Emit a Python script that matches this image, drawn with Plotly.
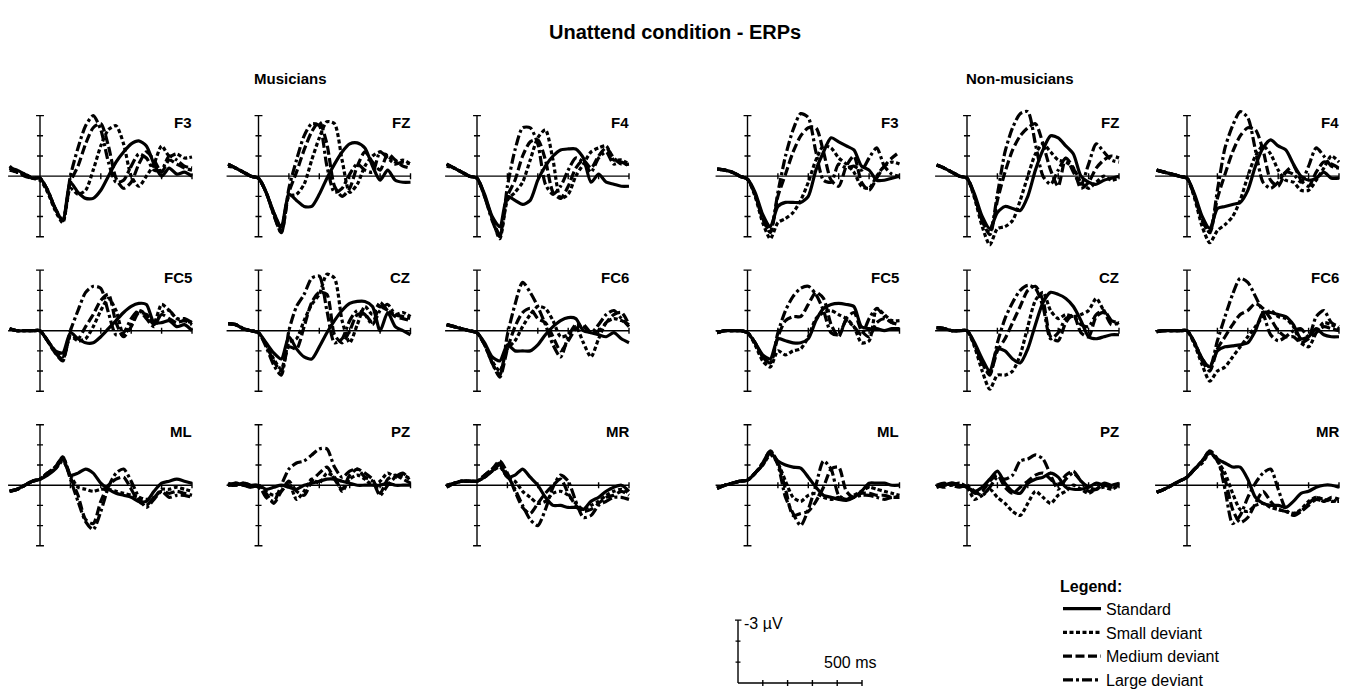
import plotly.graph_objects as go

# ---------------- data ----------------
TIME_MS = [-100, -75, -50, -25, 0, 25, 50, 75, 100, 125, 150, 175, 200,
           225, 250, 275, 300, 325, 350, 375, 400, 425, 450, 475, 500]
CONDITIONS = ["Standard", "Small deviant", "Medium deviant", "Large deviant"]
GROUPS = ["Musicians", "Non-musicians"]
ELECTRODES = [["F3", "FZ", "F4"], ["FC5", "CZ", "FC6"], ["ML", "PZ", "MR"]]

# Musicians (µV, negative plotted upward)
mus_F3_std = [-0.4,-0.3,-0.1,0.1,0.1, 0.7,1.6,2.2,0.3, 0.8,1.1,1.1,0.7, 0.0,-0.7,-1.2,-1.6,-1.75,-1.5,-0.6,0.0,-0.4,-0.1,-0.2,0.0]
mus_F3_sml = [-0.5,-0.2,-0.1,0.1,0.2, 0.8,1.7,2.3,0.6, 0.9,0.7,-0.3,-1.5, -2.3,-2.5,-1.6,0.0,0.5,0.0,-0.6,-1.5,-1.0,-1.1,-0.9,-0.95]
mus_F3_med = [-0.3,-0.2,0.0,0.1,0.1, 0.7,1.6,2.2,0.3, -0.5,-1.6,-2.4,-2.6, -1.5,0.1,0.6,0.3,-0.6,-1.2,-0.8,-0.2,-0.8,-0.6,-0.4,-0.3]
mus_F3_lrg = [-0.4,-0.2,-0.1,0.1,0.1, 0.7,1.6,2.2,0.0, -1.4,-2.5,-3.0,-2.3, -0.7,0.3,0.2,-0.5,-1.1,-0.9,-0.3,-0.3,-1.0,-0.8,-0.5,-0.4]

mus_FZ_std = [-0.6,-0.4,-0.2,0.0,0.1, 0.8,1.8,2.5,0.9, 1.2,1.5,1.5,0.9, 0.1,-0.6,-1.2,-1.6,-1.65,-1.4,-0.5,0.2,-0.3,0.2,0.3,0.3]
mus_FZ_sml = [-0.5,-0.4,-0.2,0.0,0.1, 0.8,1.8,2.6,1.0, 0.9,0.4,-0.8,-1.9, -2.7,-2.6,-0.8,0.8,0.4,-0.5,-1.0,-1.2,-1.0,-0.7,-0.8,-0.6]
mus_FZ_med = [-0.6,-0.4,-0.2,0.0,0.1, 0.8,1.9,2.8,0.8, -0.2,-1.3,-2.2,-2.7, -1.6,0.5,1.0,0.6,-0.5,-1.2,-0.7,-0.3,-1.1,-0.8,-0.5,-0.4]
mus_FZ_lrg = [-0.6,-0.4,-0.2,0.0,0.1, 0.8,1.9,2.8,0.6, -0.8,-2.0,-2.6,-2.5, -0.5,0.8,0.6,-0.1,-0.6,-0.3,-0.2,-1.2,-0.9,-0.6,-0.7,-0.6]

mus_F4_std = [-0.6,-0.4,-0.2,0.0,0.1, 0.9,2.0,2.5,1.0, 1.2,1.4,1.2,0.2, -0.5,-1.0,-1.3,-1.35,-1.35,-0.9,0.3,-0.1,0.3,0.4,0.5,0.5]
mus_F4_sml = [-0.5,-0.4,-0.2,0.0,0.1, 1.0,2.1,3.1,1.2, 0.8,0.3,-0.8,-1.9, -2.3,-0.8,1.1,0.9,0.0,-0.6,-1.2,-1.4,-1.5,-0.8,-0.8,-0.6]
mus_F4_med = [-0.6,-0.4,-0.2,0.0,0.1, 1.0,2.1,2.9,1.0, 0.2,-1.0,-1.7,-1.8, -0.8,0.8,1.1,0.5,-0.4,-0.8,-0.4,-1.0,-1.4,-0.9,-0.6,-0.6]
mus_F4_lrg = [-0.6,-0.4,-0.2,0.0,0.1, 1.0,2.2,3.0,0.5, -1.3,-2.4,-2.4,-1.6, 0.4,0.9,0.5,-0.3,-0.9,-0.7,-0.2,-0.9,-1.2,-0.6,-0.7,-0.5]

mus_FC5_std = [-0.1,0.0,0.0,0.0,0.0, 0.5,1.0,1.1,0.1, 0.4,0.6,0.6,0.3, -0.1,-0.5,-0.9,-1.2,-1.35,-1.3,-0.4,-0.4,-0.5,-0.2,-0.3,0.0]
mus_FC5_sml = [-0.1,0.0,0.0,0.0,0.0, 0.5,1.0,1.3,0.3, 0.5,0.4,-0.2,-1.0, -1.6,-1.0,0.2,-0.3,-1.0,-0.8,-0.4,-1.3,-1.0,-0.6,-0.5,-0.4]
mus_FC5_med = [-0.1,0.0,0.0,0.0,0.0, 0.5,1.1,1.5,0.2, 0.4,-0.2,-0.8,-1.5, -1.8,-0.4,0.3,-0.2,-0.9,-0.8,-0.3,-0.8,-0.6,-0.4,-0.5,-0.3]
mus_FC5_lrg = [-0.1,0.0,0.0,0.0,0.0, 0.5,1.1,1.4,0.0, -1.0,-1.9,-2.2,-2.1, -0.9,0.2,0.1,-0.6,-1.0,-0.6,-0.2,-0.9,-1.0,-0.6,-0.6,-0.4]

mus_CZ_std = [-0.35,-0.3,-0.1,0.0,0.1, 0.6,1.1,1.4,0.3, 0.9,1.3,1.4,0.8, 0.1,-0.5,-1.0,-1.35,-1.45,-1.45,-1.2,0.0,-0.9,-0.2,0.0,0.2]
mus_CZ_sml = [-0.35,-0.3,-0.1,0.0,0.1, 0.7,1.4,1.9,0.6, 0.4,-0.5,-1.3,-1.8, -2.8,-2.6,-0.5,0.6,-0.3,-1.2,-0.8,-1.4,-1.0,-0.8,-0.9,-0.7]
mus_CZ_med = [-0.35,-0.3,-0.1,0.0,0.1, 0.7,1.5,2.0,0.8, 0.9,-0.2,-1.4,-1.9, -1.8,0.2,0.6,0.0,-0.8,-0.8,-0.4,-1.2,-1.0,-0.7,-0.6,-0.5]
mus_CZ_lrg = [-0.35,-0.3,-0.1,0.0,0.1, 0.8,1.7,2.2,0.0, -1.2,-1.8,-2.6,-2.7, -1.0,0.6,0.4,-0.5,-1.0,-0.8,-0.3,-1.0,-1.3,-0.8,-0.7,-0.6]

mus_FC6_std = [-0.3,-0.2,-0.1,0.0,0.1, 0.6,1.3,1.5,0.7, 1.0,1.0,1.0,0.7, 0.2,-0.2,-0.5,-0.65,-0.6,0.0,0.1,0.2,0.3,0.1,0.4,0.6]
mus_FC6_sml = [-0.3,-0.2,-0.1,0.0,0.1, 0.7,1.5,2.0,0.9, 0.5,-0.2,-0.8,-1.2, -1.1,-0.5,0.3,0.2,-0.2,0.6,1.3,0.4,-0.4,-0.6,-0.5,-0.3]
mus_FC6_med = [-0.3,-0.2,-0.1,0.0,0.1, 0.7,1.6,2.3,0.9, -0.2,-0.9,-1.1,-0.6, -0.4,0.3,1.0,0.5,-0.1,-0.3,0.1,0.0,-0.4,-0.8,-0.9,-0.3]
mus_FC6_lrg = [-0.3,-0.2,-0.1,0.0,0.1, 0.7,1.6,2.2,0.2, -1.3,-2.4,-1.9,-1.2, -0.3,0.7,1.3,0.3,-0.3,-0.2,0.1,-0.3,-0.8,-1.0,-0.6,-0.2]

mus_ML_std = [0.3,0.2,0.0,-0.2,-0.3, -0.5,-0.8,-1.3,-0.5, -0.6,-0.8,-0.6,-0.1, 0.2,0.4,0.5,0.6,0.8,0.8,0.3,-0.1,-0.2,-0.3,-0.2,-0.1]
mus_ML_sml = [0.3,0.2,0.0,-0.2,-0.3, -0.6,-0.8,-1.2,-0.5, 0.1,0.2,0.3,0.2, 0.2,0.3,0.4,0.5,0.6,0.7,0.6,0.2,0.2,0.1,0.2,0.3]
mus_ML_med = [0.3,0.2,0.0,-0.2,-0.3, -0.6,-0.9,-1.4,-0.4, 0.5,1.7,1.9,0.8, 0.0,-0.3,-0.4,0.2,0.8,1.0,0.6,0.3,0.4,0.3,0.4,0.5]
mus_ML_lrg = [0.3,0.2,0.0,-0.2,-0.3, -0.6,-0.9,-1.4,-0.3, 0.8,1.8,2.2,1.3, 0.1,-0.6,-0.8,-0.2,0.6,1.1,0.7,0.3,0.6,0.5,0.5,0.6]

mus_PZ_std = [0.0,-0.1,0.0,0.1,0.0, 0.2,0.1,0.0,0.1, 0.2,0.0,-0.1,-0.2, -0.3,-0.3,-0.2,-0.1,0.0,0.0,0.0,0.0,-0.1,0.0,0.0,0.0]
mus_PZ_sml = [0.0,-0.1,0.0,0.1,0.0, 0.3,0.5,0.3,-0.1, 0.7,0.3,-0.3,-0.1, -0.6,-0.4,0.3,-0.3,-0.5,-0.3,0.0,-0.2,-0.6,-0.4,-0.5,-0.3]
mus_PZ_med = [0.0,0.0,-0.1,0.0,0.1, 0.4,0.9,0.3,-0.2, 0.3,0.5,-0.2,-0.6, -0.9,-0.3,0.2,-0.5,-0.8,-0.6,-0.3,0.4,-0.3,-0.5,-0.3,-0.1]
mus_PZ_lrg = [-0.1,0.0,-0.1,0.0,0.0, 0.6,0.8,0.0,-0.8, -1.1,-1.2,-1.5,-1.8, -1.8,-0.9,-0.4,-0.7,-0.8,-0.4,-0.2,0.5,0.0,-0.4,-0.6,-0.2]

mus_MR_std = [0.0,-0.1,-0.2,-0.2,-0.2, -0.4,-0.7,-1.0,-0.4, -0.5,-0.8,-0.4,0.0, 0.6,1.0,1.0,1.1,1.1,1.2,0.8,0.6,0.3,0.1,0.0,0.3]
mus_MR_sml = [0.0,-0.1,-0.2,-0.2,-0.2, -0.4,-0.7,-0.9,-0.4, -0.2,0.3,0.6,0.9, 0.8,0.4,0.3,0.5,0.9,1.2,1.0,0.8,0.5,0.3,0.2,0.4]
mus_MR_med = [0.1,-0.1,-0.2,-0.2,-0.2, -0.5,-0.8,-1.2,-0.6, 0.3,1.1,1.4,0.9, 0.4,0.0,-0.3,0.4,1.0,1.3,1.2,0.9,0.6,0.5,0.3,0.5]
mus_MR_lrg = [0.1,-0.1,-0.2,-0.2,-0.2, -0.5,-0.8,-1.1,-0.5, 0.2,1.0,1.7,2.0, 1.2,0.1,-0.5,-0.2,0.8,1.6,1.5,1.0,0.8,0.6,0.6,0.7]

# Non-musicians
non_F3_std = [-0.35,-0.3,-0.2,0.0,0.15, 0.8,1.9,2.5,1.5, 1.3,1.3,1.3,1.0, -0.3,-1.2,-1.9,-1.7,-1.5,-1.3,-0.5,-0.3,0.2,0.2,0.1,0.0]
non_F3_sml = [-0.35,-0.3,-0.2,0.0,0.15, 1.0,2.3,3.1,2.3, 2.1,1.8,1.2,0.3, -0.8,-1.5,-1.4,-0.9,-0.6,-0.2,0.5,0.6,0.0,-0.5,-0.7,-0.6]
non_F3_med = [-0.35,-0.3,-0.2,0.0,0.15, 0.9,2.1,2.8,1.0, -0.1,-1.2,-2.0,-2.4, -2.4,-1.2,0.2,0.5,-0.5,-1.0,0.3,0.7,0.1,-0.5,-0.9,-1.2]
non_F3_lrg = [-0.35,-0.3,-0.2,0.0,0.15, 0.9,2.1,2.7,0.8, -1.0,-2.3,-3.1,-2.9, -1.2,0.2,0.3,-0.6,-0.4,-0.5,-0.3,-0.9,-1.4,-0.5,-0.1,0.0]

non_FZ_std = [-0.55,-0.4,-0.2,0.0,0.1, 0.9,2.0,2.6,1.8, 1.5,1.6,1.7,1.0, -0.3,-1.3,-2.0,-1.9,-1.5,-1.1,0.0,0.3,0.4,0.2,0.1,0.0]
non_FZ_sml = [-0.55,-0.4,-0.2,0.0,0.1, 1.1,2.5,3.4,2.6, 2.5,2.2,1.2,0.0, -1.1,-1.6,-1.2,-0.8,-0.7,-0.4,0.3,0.6,0.3,0.0,0.2,0.1]
non_FZ_med = [-0.55,-0.4,-0.2,0.0,0.1, 1.0,2.2,2.9,1.2, -0.2,-1.3,-2.0,-2.4, -2.6,-1.6,-0.3,0.5,-0.9,-0.4,0.6,0.3,-0.4,-0.8,-1.0,-0.9]
non_FZ_lrg = [-0.55,-0.4,-0.2,0.0,0.1, 1.0,2.2,2.8,0.9, -1.2,-2.4,-3.1,-3.2, -1.6,0.0,0.4,-0.3,-0.9,-0.2,0.4,-0.6,-1.6,-1.2,-0.8,-0.7]

non_F4_std = [-0.3,-0.2,-0.1,0.0,0.1, 0.9,2.0,2.6,1.6, 1.5,1.4,1.3,0.7, -0.5,-1.4,-1.8,-1.5,-1.3,-0.6,0.0,0.2,0.1,-0.2,0.1,0.1]
non_F4_sml = [-0.3,-0.2,-0.1,0.0,0.1, 1.1,2.5,3.3,2.7, 2.4,2.0,1.2,0.0, -1.0,-1.5,-1.1,-0.3,0.2,0.3,0.7,0.7,0.2,-0.4,-1.0,-0.7]
non_F4_med = [-0.3,-0.2,-0.1,0.0,0.1, 1.0,2.1,2.8,1.1, -0.1,-1.2,-2.0,-2.4, -2.3,-1.3,0.2,0.5,-0.2,-0.5,0.2,0.5,-0.2,-0.7,-0.6,-0.4]
non_F4_lrg = [-0.3,-0.2,-0.1,0.0,0.1, 1.0,2.2,2.8,0.7, -1.4,-2.5,-3.2,-2.9, -1.3,0.3,0.6,0.3,-0.2,-0.1,0.3,-0.5,-1.4,-1.0,-0.5,-0.4]

non_FC5_std = [0.1,0.0,0.0,0.0,0.1, 0.6,1.2,1.4,0.4, 0.5,0.6,0.6,0.4, -0.5,-1.1,-1.3,-1.35,-1.3,-1.2,-0.2,-0.1,-0.1,0.0,-0.1,-0.1]
non_FC5_sml = [0.1,0.0,0.0,0.0,0.1, 0.7,1.5,1.8,1.0, 1.2,1.0,0.9,0.3, -0.6,-0.9,-1.0,-0.8,-0.6,-0.2,0.6,0.5,-1.1,-0.8,-0.5,-0.5]
non_FC5_med = [0.1,0.0,0.0,0.0,0.1, 0.6,1.3,1.6,0.3, -0.5,-0.7,-0.7,-1.3, -1.9,-1.6,-0.3,0.3,-0.6,-0.9,0.0,0.3,-0.4,-0.6,-0.4,-0.3]
non_FC5_lrg = [0.1,0.0,0.0,0.0,0.1, 0.6,1.3,1.6,0.1, -1.0,-1.7,-2.1,-2.2, -1.8,-1.0,0.1,0.2,-0.5,-0.2,0.2,-0.6,-1.1,-0.7,-0.4,-0.3]

non_CZ_std = [-0.15,-0.1,0.0,0.0,0.0, 0.6,1.4,2.0,0.9, 1.0,1.4,1.6,0.9, -0.3,-1.4,-1.9,-1.8,-1.6,-1.2,-0.5,0.3,0.4,0.3,0.2,0.2]
non_CZ_sml = [-0.15,-0.1,0.0,0.0,0.0, 0.8,2.0,2.9,2.2, 2.2,2.0,1.2,-0.2, -1.5,-1.9,-1.0,-0.6,-0.8,-0.7,-0.8,-1.0,-1.6,-1.0,-0.5,-0.4]
non_CZ_med = [-0.15,-0.1,0.0,0.0,0.0, 0.7,1.6,2.1,1.0, 0.4,-0.4,-1.2,-2.0, -2.2,-1.5,0.3,0.5,-0.4,-0.8,0.1,0.3,-0.7,-0.9,-0.3,-0.4]
non_CZ_lrg = [-0.15,-0.1,0.0,0.0,0.0, 0.7,1.6,2.2,0.6, -0.6,-1.4,-2.0,-2.25, -2.1,-1.2,0.4,0.1,-0.6,-0.7,-0.3,-0.2,-0.8,-1.0,-0.5,-0.3]

non_FC6_std = [0.05,0.0,0.0,0.0,0.0, 0.6,1.4,1.8,1.0, 0.8,0.75,0.7,0.6, 0.0,-0.9,-0.9,-0.8,-0.7,-0.3,0.4,0.3,-0.1,0.2,0.3,0.3]
non_FC6_sml = [0.05,0.0,0.0,0.0,0.0, 0.7,1.7,2.5,2.0, 1.8,1.3,0.8,0.3, -0.2,-0.7,-1.0,-0.7,-0.6,-0.2,0.6,0.8,0.1,-0.4,-0.3,-0.1]
non_FC6_med = [0.05,0.0,0.0,0.0,0.0, 0.6,1.5,2.0,0.9, 0.3,-0.3,-0.8,-1.0, -1.35,-1.1,-0.6,0.0,0.3,0.3,0.6,0.4,0.1,-0.2,-0.1,0.0]
non_FC6_lrg = [0.05,0.0,0.0,0.0,0.0, 0.6,1.4,1.8,0.5, -0.7,-1.8,-2.6,-2.4, -1.7,-0.9,0.2,0.5,0.3,0.0,-0.1,0.3,-0.7,-1.0,-0.4,-0.2]

non_ML_std = [0.15,0.0,-0.1,-0.2,-0.25, -0.6,-1.0,-1.6,-1.2, -1.0,-0.9,-0.85,-0.4, 0.1,0.5,0.6,0.7,0.75,0.6,0.3,-0.1,-0.1,-0.1,0.0,0.0]
non_ML_sml = [0.15,0.0,-0.1,-0.2,-0.25, -0.6,-1.0,-1.5,-1.1, -0.2,0.6,0.8,0.5, 0.4,0.6,0.7,0.6,0.7,0.5,0.3,0.1,0.2,0.3,0.4,0.5]
non_ML_med = [0.15,0.0,-0.1,-0.2,-0.25, -0.6,-1.1,-1.7,-1.1, 0.2,1.5,1.4,1.3, 0.8,0.1,-0.8,-0.9,0.3,0.6,0.4,0.4,0.5,0.5,0.6,0.6]
non_ML_lrg = [0.15,0.0,-0.1,-0.2,-0.25, -0.6,-1.1,-1.7,-1.0, 0.6,1.4,2.0,1.2, 0.0,-1.2,-0.8,0.5,0.7,0.6,0.5,0.5,0.6,0.7,0.6,0.6]

non_PZ_std = [0.1,0.0,-0.1,0.0,0.1, 0.3,0.1,-0.3,-0.7, -0.1,0.3,0.4,-0.1, -0.3,-0.4,-0.6,-0.4,0.1,0.2,0.2,0.1,-0.1,0.0,0.0,-0.1]
non_PZ_sml = [0.1,0.0,0.0,-0.1,0.1, 0.7,0.5,0.2,0.6, 0.9,1.3,1.5,0.9, 0.3,0.6,0.9,0.5,0.3,0.0,0.2,0.4,0.2,0.1,0.2,0.0]
non_PZ_med = [0.0,0.1,-0.1,0.0,0.1, 0.4,0.3,-0.2,-0.5, 0.1,0.4,0.1,-0.2, -0.5,-0.6,-0.3,0.0,-0.5,-0.7,-0.2,0.1,0.2,-0.1,0.0,0.0]
non_PZ_lrg = [0.0,-0.1,0.0,0.1,0.0, 0.3,0.5,0.1,-0.4, -0.3,-0.5,-1.2,-1.3, -1.5,-1.3,-0.5,0.2,-0.3,-0.6,-0.2,0.3,0.2,0.0,0.1,0.0]

non_MR_std = [0.35,0.2,0.0,-0.2,-0.4, -0.8,-1.2,-1.6,-1.3, -1.1,-0.9,-0.9,-0.3, 0.6,0.9,1.0,1.0,1.1,0.8,0.4,0.3,0.1,0.0,0.0,0.1]
non_MR_sml = [0.35,0.2,0.0,-0.2,-0.4, -0.8,-1.1,-1.6,-1.2, -0.6,0.4,1.2,1.3, 1.0,0.9,1.1,1.2,1.3,1.4,1.2,0.8,0.6,0.7,0.8,0.8]
non_MR_med = [0.35,0.2,0.0,-0.2,-0.4, -0.8,-1.2,-1.7,-1.2, -0.3,1.2,1.85,1.6, 0.9,0.3,0.8,1.2,1.3,1.4,1.3,1.0,0.7,0.8,0.6,0.7]
non_MR_lrg = [0.35,0.2,0.0,-0.2,-0.4, -0.8,-1.2,-1.7,-1.3, 0.2,1.9,1.5,0.6, -0.1,-0.6,-0.8,0.2,1.2,1.5,1.3,0.9,0.6,0.8,0.7,0.9]

SCALE_TIME_TICKS = [0, 100, 200, 300, 400, 500]
SCALE_UV_TICKS = [0, -1, -2, -3]
PANEL_UV_TICKS = [-3, -2, -1, 1, 2, 3]
PANEL_TIME_TICKS = [100, 200, 300, 400, 500]

DATA = {
    ("Musicians", "F3"): [mus_F3_std, mus_F3_sml, mus_F3_med, mus_F3_lrg],
    ("Musicians", "FZ"): [mus_FZ_std, mus_FZ_sml, mus_FZ_med, mus_FZ_lrg],
    ("Musicians", "F4"): [mus_F4_std, mus_F4_sml, mus_F4_med, mus_F4_lrg],
    ("Musicians", "FC5"): [mus_FC5_std, mus_FC5_sml, mus_FC5_med, mus_FC5_lrg],
    ("Musicians", "CZ"): [mus_CZ_std, mus_CZ_sml, mus_CZ_med, mus_CZ_lrg],
    ("Musicians", "FC6"): [mus_FC6_std, mus_FC6_sml, mus_FC6_med, mus_FC6_lrg],
    ("Musicians", "ML"): [mus_ML_std, mus_ML_sml, mus_ML_med, mus_ML_lrg],
    ("Musicians", "PZ"): [mus_PZ_std, mus_PZ_sml, mus_PZ_med, mus_PZ_lrg],
    ("Musicians", "MR"): [mus_MR_std, mus_MR_sml, mus_MR_med, mus_MR_lrg],
    ("Non-musicians", "F3"): [non_F3_std, non_F3_sml, non_F3_med, non_F3_lrg],
    ("Non-musicians", "FZ"): [non_FZ_std, non_FZ_sml, non_FZ_med, non_FZ_lrg],
    ("Non-musicians", "F4"): [non_F4_std, non_F4_sml, non_F4_med, non_F4_lrg],
    ("Non-musicians", "FC5"): [non_FC5_std, non_FC5_sml, non_FC5_med, non_FC5_lrg],
    ("Non-musicians", "CZ"): [non_CZ_std, non_CZ_sml, non_CZ_med, non_CZ_lrg],
    ("Non-musicians", "FC6"): [non_FC6_std, non_FC6_sml, non_FC6_med, non_FC6_lrg],
    ("Non-musicians", "ML"): [non_ML_std, non_ML_sml, non_ML_med, non_ML_lrg],
    ("Non-musicians", "PZ"): [non_PZ_std, non_PZ_sml, non_PZ_med, non_PZ_lrg],
    ("Non-musicians", "MR"): [non_MR_std, non_MR_sml, non_MR_med, non_MR_lrg],
}

# ---------------- layout / style ----------------
W, H = 1349, 697
FONT = "Liberation Sans, Arial, Helvetica, sans-serif"
DASHES = {"Standard": "solid", "Small deviant": "4px,2.5px",
          "Medium deviant": "9px,3.5px", "Large deviant": "10px,3px,3px,3px"}
COL_X0 = {"Musicians": [40, 258.5, 477], "Non-musicians": [747.5, 967, 1187]}
ROW_Y0 = [179, 336, 493]
PX_MS = 0.304
PX_UV = 20.5
XR = [-112, 512]
YLIM = 3.7
AXW = 1.4

fig = go.Figure()
layout = dict(width=W, height=H, margin=dict(l=0, r=0, t=0, b=0),
              paper_bgcolor="white", plot_bgcolor="rgba(0,0,0,0)",
              font=dict(family=FONT, color="black"))
shapes = []
annotations = []


def seg(n, x0, y0, x1, y1):
    sfx = "" if n == 1 else str(n)
    shapes.append(dict(type="line", xref="x" + sfx, yref="y" + sfx,
                       x0=x0, y0=y0, x1=x1, y1=y1, layer="below",
                       line=dict(color="black", width=AXW)))


n = 0
for group in GROUPS:
    for r, row in enumerate(ELECTRODES):
        for c, el in enumerate(row):
            n += 1
            sfx = "" if n == 1 else str(n)
            x0 = COL_X0[group][c]
            y0 = ROW_Y0[r]
            xd = [(x0 + XR[0] * PX_MS) / W, (x0 + XR[1] * PX_MS) / W]
            yd = [1 - (y0 + YLIM * PX_UV) / H, 1 - (y0 - YLIM * PX_UV) / H]
            ax = dict(visible=False, showgrid=False, zeroline=False, fixedrange=True)
            layout["xaxis" + sfx] = dict(ax, domain=xd, range=XR, anchor="y" + sfx)
            layout["yaxis" + sfx] = dict(ax, domain=yd, range=[YLIM, -YLIM], anchor="x" + sfx)
            # axes
            seg(n, 0, -3, 0, 3)
            seg(n, -105, 0, 500, 0)
            for v in PANEL_UV_TICKS:
                hw = 13 if abs(v) == 3 else 10
                seg(n, -hw, v, hw, v)
            for t in PANEL_TIME_TICKS:
                seg(n, t, -0.15, t, 0.15)
            for k, cond in enumerate(CONDITIONS):
                fig.add_trace(go.Scatter(
                    x=TIME_MS, y=DATA[(group, el)][k], mode="lines", name=cond,
                    xaxis="x" + sfx, yaxis="y" + sfx, showlegend=(n == 1),
                    legendrank=k, hoverinfo="skip",
                    line=dict(color="black", width=3.2, dash=DASHES[cond],
                              shape="spline", smoothing=0.7)))
            annotations.append(dict(text="<b>" + el + "</b>", xref="x" + sfx, yref="y" + sfx,
                                    x=505, y=-2.65, xanchor="right", yanchor="middle",
                                    showarrow=False,
                                    font=dict(family=FONT, size=15, color="black")))

# scale bar subplot
n += 1
sfx = str(n)
SB_X0, SB_Y0 = 738, 694
SB_PX_MS = 0.248
SB_PX_UV = 21.3
sx = [-12, 512]
sy = [(H - SB_Y0) / SB_PX_UV, -3.4]
layout["xaxis" + sfx] = dict(visible=False, range=sx, fixedrange=True, anchor="y" + sfx,
                             domain=[(SB_X0 + sx[0] * SB_PX_MS) / W, (SB_X0 + sx[1] * SB_PX_MS) / W])
layout["yaxis" + sfx] = dict(visible=False, range=sy, fixedrange=True, anchor="x" + sfx,
                             domain=[0, 1 - (SB_Y0 - 3.4 * SB_PX_UV) / H])
seg(n, 0, 0, 0, -3)
seg(n, 0, 0, 500, 0)
for v in SCALE_UV_TICKS[1:]:
    hw = 14 if v == -3 else 10
    seg(n, -hw, v, hw, v)
for t in SCALE_TIME_TICKS[1:]:
    seg(n, t, -0.14, t, 0.14)
annotations.append(dict(text="-3 µV", xref="x" + sfx, yref="y" + sfx, x=16, y=-2.85,
                        xanchor="left", yanchor="middle", showarrow=False,
                        font=dict(family=FONT, size=16, color="black")))
annotations.append(dict(text="500 ms", xref="x" + sfx, yref="y" + sfx, x=500, y=-1.0,
                        xanchor="right", yanchor="middle", xshift=16, showarrow=False,
                        font=dict(family=FONT, size=16, color="black")))

# titles
annotations.append(dict(text="<b>Unattend condition - ERPs</b>", xref="paper", yref="paper",
                        x=675 / W, y=1 - 33 / H, xanchor="center", yanchor="middle",
                        showarrow=False, font=dict(family=FONT, size=20, color="black")))
annotations.append(dict(text="<b>Musicians</b>", xref="paper", yref="paper",
                        x=290 / W, y=1 - 80 / H, xanchor="center", yanchor="middle",
                        showarrow=False, font=dict(family=FONT, size=15, color="black")))
annotations.append(dict(text="<b>Non-musicians</b>", xref="paper", yref="paper",
                        x=1020 / W, y=1 - 80 / H, xanchor="center", yanchor="middle",
                        showarrow=False, font=dict(family=FONT, size=15, color="black")))

layout["shapes"] = shapes
layout["annotations"] = annotations
layout["showlegend"] = True
layout["legend"] = dict(x=1058 / W, y=1 - 580 / H, xanchor="left", yanchor="top",
                        bgcolor="rgba(0,0,0,0)", borderwidth=0, itemwidth=38,
                        traceorder="normal", tracegroupgap=0,
                        font=dict(family=FONT, size=16, color="black"),
                        title=dict(text="<b>Legend:</b>", side="top",
                                   font=dict(family=FONT, size=16, color="black")))
fig.update_layout(**layout)
fig.write_html("out.html")
